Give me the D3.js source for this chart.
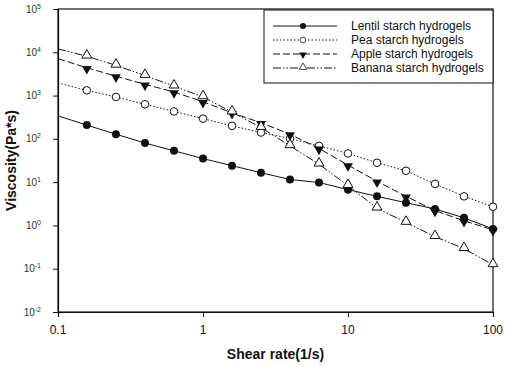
<!DOCTYPE html>
<html>
<head>
<meta charset="utf-8">
<script src="https://cdn.jsdelivr.net/npm/d3@7"></script>
<style>
  body { margin: 0; background: #fff; }
  text { font-family: "Liberation Sans", Arial, sans-serif; fill: #111; }
</style>
</head>
<body>
<div id="plot"></div>
<script>
// chart data
var shear_rate = [0.1, 0.158, 0.251, 0.398, 0.631, 1, 1.585, 2.512, 3.981, 6.31, 10, 15.85, 25.12, 39.81, 63.1, 100];
var lentil = [340, 208, 128, 80, 53, 35, 24, 16.5, 11.5, 9.8, 6.7, 4.7, 3.35, 2.4, 1.5, 0.83];
var pea = [1950, 1320, 930, 630, 430, 293, 200, 140, 102, 69, 46, 28, 18.3, 9.1, 4.7, 2.7];
var apple = [7100, 4400, 2800, 1820, 1210, 720, 400, 235, 128, 60, 24.7, 10.5, 4.7, 2.2, 1.28, 0.79];
var banana = [12000, 8100, 5000, 2900, 1650, 930, 415, 182, 69, 26, 8.3, 2.5, 1.17, 0.55, 0.29, 0.123];
var series_names = ["Lentil starch hydrogels", "Pea starch hydrogels", "Apple starch hydrogels", "Banana starch hydrogels"];
var x_ticks = [0.1, 1, 10, 100];
var x_tick_labels = ["0.1", "1", "10", "100"];
var y_exponents = [-2, -1, 0, 1, 2, 3, 4, 5];

const total_width = 505
const total_height = 366
const margin = {left: 58, top: 9, right: 12, bottom: 54}
var width = total_width - margin.left - margin.right;
var height = total_height - margin.top - margin.bottom;

var svg = d3.select("#plot").append("svg").attr("width", total_width).attr("height", total_height)
  .append("g").attr("transform", "translate(" + margin.left + "," + margin.top + ")");

var x = d3.scaleLog().domain([0.1, 100]).range([0, width]);
var y = d3.scaleLog().domain([1e-2, 1e5]).range([height, 0]);

// axes
var xAxis = d3.axisBottom(x).tickValues(x_ticks).tickSize(5).tickFormat("");
svg.append("g").attr("transform", "translate(0," + height + ")").call(xAxis);
var yAxis = d3.axisLeft(y).tickValues(y_exponents.map(function(e) {return Math.pow(10, e)})).tickSize(5).tickFormat("");
svg.append("g").call(yAxis);
svg.selectAll(".domain").attr("stroke", "#111").attr("stroke-width", 1.2);
svg.selectAll(".tick line").attr("stroke", "#111");

// frame top / right
svg.append("rect").attr("width", width).attr("height", height).style("fill", "none").style("stroke", "#111").style("stroke-width", 1.2);

// tick labels
svg.selectAll(".xlab").data(x_ticks).enter().append("text")
  .attr("x", function(d) {return x(d)}).attr("y", height + 22)
  .attr("text-anchor", "middle").attr("font-size", 12)
  .text(function(d, i) {return x_tick_labels[i]});

var ylab = svg.selectAll(".ylab").data(y_exponents).enter().append("text")
  .attr("x", -17).attr("y", function(d) {return y(Math.pow(10, d)) + 3.5})
  .attr("text-anchor", "end").attr("font-size", 10).style("fill", "#333");
ylab.append("tspan").text("10");
ylab.append("tspan").attr("font-size", 7).attr("dy", -4).text(function(d) {return d});

// axis titles
svg.append("text").attr("x", width / 2).attr("y", height + 47).attr("text-anchor", "middle")
  .attr("font-size", 14).attr("font-weight", "bold").text("Shear rate(1/s)");
svg.append("text").attr("transform", "translate(" + (-42) + "," + (height / 2) + ") rotate(-90)")
  .attr("text-anchor", "middle").attr("font-size", 14).attr("font-weight", "bold").text("Viscosity(Pa*s)");

// series
var all_series = [lentil, pea, apple, banana];
var dashes = [null, "1.5,2", "7,3", "8,2,1.5,2,1.5,2"];
var tri = d3.symbol().type(d3.symbolTriangle).size(42);
var markers = [
  function(g) {g.append("circle").attr("r", 4).attr("fill", "#111")},
  function(g) {g.append("circle").attr("r", 3.8).attr("fill", "#fff").attr("stroke", "#111").attr("stroke-width", 1)},
  function(g) {g.append("path").attr("d", tri).attr("transform", "rotate(180) translate(0,-1)").attr("fill", "#111")},
  function(g) {g.append("path").attr("d", tri).attr("transform", "translate(0,-1)").attr("fill", "#fff").attr("stroke", "#111").attr("stroke-width", 1)}
];

var line = d3.line().x(function(d) {return x(d[0])}).y(function(d) {return y(d[1])});

all_series.forEach(function(vals, k) {
  var pts = shear_rate.map(function(s, i) {return [s, vals[i]]});
  svg.append("path").datum(pts).attr("d", line)
    .style("fill", "none").style("stroke", "#111").style("stroke-width", 1)
    .style("stroke-dasharray", dashes[k]);
  pts.slice(1).forEach(function(p) {
    var g = svg.append("g").attr("transform", "translate(" + x(p[0]) + "," + y(p[1]) + ")");
    markers[k](g);
  });
});

// legend
var leg = svg.append("g").attr("transform", "translate(" + (264 - margin.left) + "," + (10 - margin.top) + ")");
leg.append("rect").attr("width", 229).attr("height", 73).style("fill", "#fff").style("stroke", "#111").style("stroke-width", 1);
series_names.forEach(function(name, k) {
  var ry = 16 + k * 14;
  leg.append("line").attr("x1", 9).attr("x2", 73).attr("y1", ry).attr("y2", ry)
    .style("stroke", "#111").style("stroke-width", 1).style("stroke-dasharray", dashes[k]);
  var g = leg.append("g").attr("transform", "translate(39," + ry + ") scale(0.75)");
  markers[k](g);
  leg.append("text").attr("x", 87).attr("y", ry + 4).attr("font-size", 12).text(name);
});
</script>
</body>
</html>
